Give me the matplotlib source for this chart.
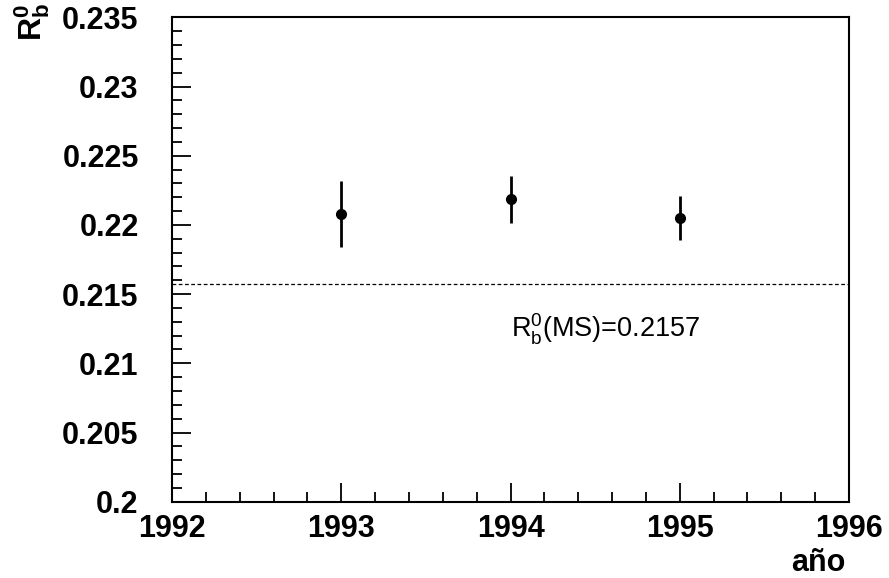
import matplotlib
matplotlib.use('Agg')
import matplotlib.pyplot as plt
from matplotlib.ticker import MultipleLocator

plt.rcParams['font.family'] = ['Liberation Sans', 'DejaVu Sans']
plt.rcParams['mathtext.fontset'] = 'custom'
plt.rcParams['mathtext.rm'] = 'Liberation Sans'
plt.rcParams['mathtext.bf'] = 'Liberation Sans:bold'

# datos: R_b^0 por año
anos = [1993, 1994, 1995]
rb = [0.2208, 0.22185, 0.2205]
err = [0.0024, 0.0017, 0.0016]
rb_ms = 0.2157

xticks = [1992, 1993, 1994, 1995, 1996]
yticks = [0.2, 0.205, 0.21, 0.215, 0.22, 0.225, 0.23, 0.235]
ylabels = ['0.2', '0.205', '0.21', '0.215', '0.22', '0.225', '0.23', '0.235']

fig = plt.figure(figsize=(8.89, 5.78), dpi=100)
ax = fig.add_axes([0.1935, 0.132, 0.7615, 0.838])

ax.errorbar(anos, rb, yerr=err, fmt='o', color='black', ms=7,
            elinewidth=2, capsize=0)
ax.axhline(rb_ms, color='black', lw=0.9, ls=(0, (3, 2)))
ax.text(1994.0, 0.2119, r'R$_\mathregular{b}^\mathregular{0}$(MS)=0.2157',
        fontsize=19.5, ha='left', va='baseline')

ax.set_xlim(1992, 1996)
ax.set_ylim(0.2, 0.235)
ax.set_xticks(xticks)
ax.set_xticklabels([str(t) for t in xticks])
ax.xaxis.set_minor_locator(MultipleLocator(0.2))
ax.set_yticks(yticks)
ax.set_yticklabels(ylabels)
ax.yaxis.set_minor_locator(MultipleLocator(0.001))

for s in ax.spines.values():
    s.set_linewidth(1.5)
ax.tick_params(which='both', direction='in', width=1.3, top=False, right=False)
ax.tick_params(which='major', length=14)
ax.tick_params(which='minor', length=7)
ax.tick_params(axis='x', which='major', pad=9, labelsize=22)
ax.tick_params(axis='y', which='major', pad=24, labelsize=22)
for lb in ax.get_xticklabels() + ax.get_yticklabels():
    lb.set_fontweight('bold')

fig.text(0.036, 0.995, r'$\mathbf{R_b^0}$', rotation=90, fontsize=23,
         ha='center', va='top')
fig.text(0.92, 0.012, 'año', fontsize=22, fontweight='bold',
         ha='center', va='baseline')

fig.savefig('out.png', dpi=100)
